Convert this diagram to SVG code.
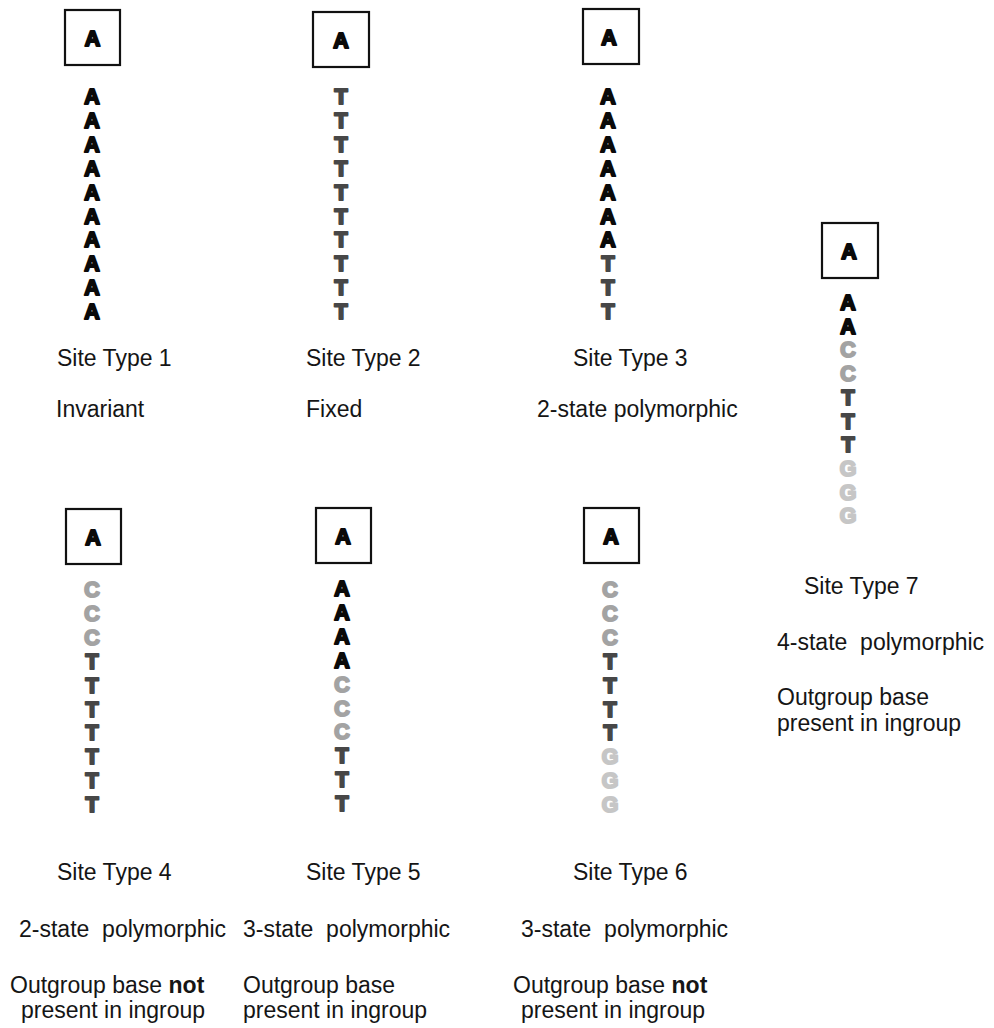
<svg xmlns="http://www.w3.org/2000/svg" width="994" height="1028" viewBox="0 0 994 1028">
  <style>
    .box { fill: #ffffff; stroke: #111111; stroke-width: 2.2; }
    .base { font-family: "Liberation Sans", Arial, sans-serif; font-weight: bold; font-size: 21.4px; text-anchor: middle; stroke-width: 2.1; stroke-linejoin: round; }
    .A { fill: #0a0a0a; stroke: #0a0a0a; }
    .T { fill: #474747; stroke: #474747; }
    .C { fill: #a3a3a3; stroke: #a3a3a3; }
    .G { fill: #c6c6c6; stroke: #c6c6c6; }
    .lbl { font-family: "Liberation Sans", Arial, sans-serif; font-size: 23px; fill: #151515; }
    .bold { font-weight: bold; }
  </style>

  <!-- Site type 1: invariant -->
  <g id="site1">
    <rect class="box" x="65" y="10" width="55" height="55"/>
    <text class="base A" x="92.5" y="46">A</text>
    <text class="base" x="92" y="104">
      <tspan class="A" x="92">A</tspan><tspan class="A" x="92" dy="23.9">A</tspan><tspan class="A" x="92" dy="23.9">A</tspan><tspan class="A" x="92" dy="23.9">A</tspan><tspan class="A" x="92" dy="23.9">A</tspan><tspan class="A" x="92" dy="23.9">A</tspan><tspan class="A" x="92" dy="23.9">A</tspan><tspan class="A" x="92" dy="23.9">A</tspan><tspan class="A" x="92" dy="23.9">A</tspan><tspan class="A" x="92" dy="23.9">A</tspan>
    </text>
    <text class="lbl" x="57" y="366">Site Type 1</text>
    <text class="lbl" x="56" y="417">Invariant</text>
  </g>

  <!-- Site type 2: fixed -->
  <g id="site2">
    <rect class="box" x="313" y="12" width="56" height="55"/>
    <text class="base A" x="341" y="48">A</text>
    <text class="base" x="341" y="104">
      <tspan class="T" x="341">T</tspan><tspan class="T" x="341" dy="23.9">T</tspan><tspan class="T" x="341" dy="23.9">T</tspan><tspan class="T" x="341" dy="23.9">T</tspan><tspan class="T" x="341" dy="23.9">T</tspan><tspan class="T" x="341" dy="23.9">T</tspan><tspan class="T" x="341" dy="23.9">T</tspan><tspan class="T" x="341" dy="23.9">T</tspan><tspan class="T" x="341" dy="23.9">T</tspan><tspan class="T" x="341" dy="23.9">T</tspan>
    </text>
    <text class="lbl" x="306" y="366">Site Type 2</text>
    <text class="lbl" x="306" y="417">Fixed</text>
  </g>

  <!-- Site type 3: 2-state polymorphic -->
  <g id="site3">
    <rect class="box" x="583" y="9" width="56" height="55"/>
    <text class="base A" x="609" y="45">A</text>
    <text class="base" x="608" y="104">
      <tspan class="A" x="608">A</tspan><tspan class="A" x="608" dy="23.9">A</tspan><tspan class="A" x="608" dy="23.9">A</tspan><tspan class="A" x="608" dy="23.9">A</tspan><tspan class="A" x="608" dy="23.9">A</tspan><tspan class="A" x="608" dy="23.9">A</tspan><tspan class="A" x="608" dy="23.9">A</tspan><tspan class="T" x="608" dy="23.9">T</tspan><tspan class="T" x="608" dy="23.9">T</tspan><tspan class="T" x="608" dy="23.9">T</tspan>
    </text>
    <text class="lbl" x="573" y="366">Site Type 3</text>
    <text class="lbl" x="537" y="417">2-state polymorphic</text>
  </g>

  <!-- Site type 4: 2-state, outgroup base absent -->
  <g id="site4">
    <rect class="box" x="66" y="509" width="55" height="55"/>
    <text class="base A" x="93" y="545">A</text>
    <text class="base" x="92" y="597">
      <tspan class="C" x="92">C</tspan><tspan class="C" x="92" dy="23.9">C</tspan><tspan class="C" x="92" dy="23.9">C</tspan><tspan class="T" x="92" dy="23.9">T</tspan><tspan class="T" x="92" dy="23.9">T</tspan><tspan class="T" x="92" dy="23.9">T</tspan><tspan class="T" x="92" dy="23.9">T</tspan><tspan class="T" x="92" dy="23.9">T</tspan><tspan class="T" x="92" dy="23.9">T</tspan><tspan class="T" x="92" dy="23.9">T</tspan>
    </text>
    <text class="lbl" x="57" y="880">Site Type 4</text>
    <text class="lbl" x="19" y="937" xml:space="preserve">2-state  polymorphic</text>
    <text class="lbl" x="10" y="993">Outgroup base <tspan class="bold">not</tspan></text>
    <text class="lbl" x="21" y="1018">present in ingroup</text>
  </g>

  <!-- Site type 5: 3-state, outgroup base present -->
  <g id="site5">
    <rect class="box" x="316" y="508" width="55" height="55"/>
    <text class="base A" x="343" y="544">A</text>
    <text class="base" x="342" y="596">
      <tspan class="A" x="342">A</tspan><tspan class="A" x="342" dy="23.9">A</tspan><tspan class="A" x="342" dy="23.9">A</tspan><tspan class="A" x="342" dy="23.9">A</tspan><tspan class="C" x="342" dy="23.9">C</tspan><tspan class="C" x="342" dy="23.9">C</tspan><tspan class="C" x="342" dy="23.9">C</tspan><tspan class="T" x="342" dy="23.9">T</tspan><tspan class="T" x="342" dy="23.9">T</tspan><tspan class="T" x="342" dy="23.9">T</tspan>
    </text>
    <text class="lbl" x="306" y="880">Site Type 5</text>
    <text class="lbl" x="243" y="937" xml:space="preserve">3-state  polymorphic</text>
    <text class="lbl" x="243" y="993">Outgroup base</text>
    <text class="lbl" x="243" y="1018">present in ingroup</text>
  </g>

  <!-- Site type 6: 3-state, outgroup base absent -->
  <g id="site6">
    <rect class="box" x="584" y="508" width="55" height="55"/>
    <text class="base A" x="611" y="544">A</text>
    <text class="base" x="610" y="597">
      <tspan class="C" x="610">C</tspan><tspan class="C" x="610" dy="23.9">C</tspan><tspan class="C" x="610" dy="23.9">C</tspan><tspan class="T" x="610" dy="23.9">T</tspan><tspan class="T" x="610" dy="23.9">T</tspan><tspan class="T" x="610" dy="23.9">T</tspan><tspan class="T" x="610" dy="23.9">T</tspan><tspan class="G" x="610" dy="23.9">G</tspan><tspan class="G" x="610" dy="23.9">G</tspan><tspan class="G" x="610" dy="23.9">G</tspan>
    </text>
    <text class="lbl" x="573" y="880">Site Type 6</text>
    <text class="lbl" x="521" y="937" xml:space="preserve">3-state  polymorphic</text>
    <text class="lbl" x="513" y="993">Outgroup base <tspan class="bold">not</tspan></text>
    <text class="lbl" x="521" y="1018">present in ingroup</text>
  </g>

  <!-- Site type 7: 4-state, outgroup base present -->
  <g id="site7">
    <rect class="box" x="822" y="223" width="56" height="55"/>
    <text class="base A" x="849" y="259">A</text>
    <text class="base" x="848" y="310">
      <tspan class="A" x="848">A</tspan><tspan class="A" x="848" dy="23.7">A</tspan><tspan class="C" x="848" dy="23.7">C</tspan><tspan class="C" x="848" dy="23.7">C</tspan><tspan class="T" x="848" dy="23.7">T</tspan><tspan class="T" x="848" dy="23.7">T</tspan><tspan class="T" x="848" dy="23.7">T</tspan><tspan class="G" x="848" dy="23.7">G</tspan><tspan class="G" x="848" dy="23.7">G</tspan><tspan class="G" x="848" dy="23.7">G</tspan>
    </text>
    <text class="lbl" x="804" y="594">Site Type 7</text>
    <text class="lbl" x="777" y="650" xml:space="preserve">4-state  polymorphic</text>
    <text class="lbl" x="777" y="705">Outgroup base</text>
    <text class="lbl" x="777" y="731">present in ingroup</text>
  </g>
</svg>
